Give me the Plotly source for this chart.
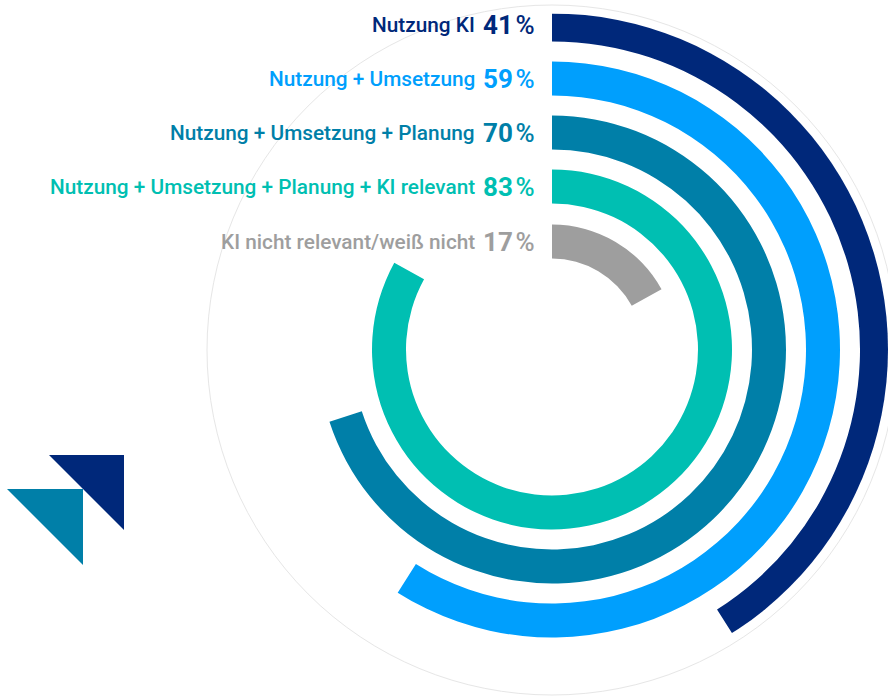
import plotly.graph_objects as go

# ---- data ----
categories = [
    "Nutzung KI",
    "Nutzung + Umsetzung",
    "Nutzung + Umsetzung + Planung",
    "Nutzung + Umsetzung + Planung + KI relevant",
    "KI nicht relevant/weiß nicht",
]
values = [41, 59, 70, 83, 17]
colors = ["#00287A", "#009FFD", "#007FA8", "#00BFB2", "#9E9E9E"]
pct_labels = [f"<b>{v}</b>\u200a%" for v in values]

# ---- geometry (radial units = pixels) ----
W, H = 888, 699
CX, CY = 552, 350
R_MAX = 336          # polar circle radius available in the window
ring_base = [308, 254, 200, 146, 91]
ring_thick = 34

fig = go.Figure()
for cat, v, col, b in zip(categories, values, colors, ring_base):
    fig.add_trace(go.Barpolar(
        r=[ring_thick], base=[b],
        theta=[v * 3.6 / 2], width=[v * 3.6],
        marker=dict(color=col, line=dict(width=0)),
        name=cat, hoverinfo="skip",
    ))

dom_x0 = (CX - R_MAX) / W
fig.update_layout(
    width=W, height=H,
    margin=dict(l=0, r=0, t=0, b=0),
    paper_bgcolor="white", plot_bgcolor="white",
    showlegend=False,
    polar=dict(
        domain=dict(x=[dom_x0, 1], y=[0, 1]),
        bgcolor="rgba(0,0,0,0)",
        radialaxis=dict(visible=False, range=[0, R_MAX]),
        angularaxis=dict(visible=False, direction="clockwise", rotation=90),
        hole=0,
    ),
    font=dict(family="Roboto"),
)

# faint outer circle
RC = 345
fig.add_shape(type="circle", xref="paper", yref="paper",
              x0=(CX - RC) / W, x1=(CX + RC) / W,
              y0=1 - (CY + RC) / H, y1=1 - (CY - RC) / H,
              line=dict(color="#E6E6E6", width=1), layer="below")

# labels
for cat, pct, col, b in zip(categories, pct_labels, colors, ring_base):
    yc = CY - (b + ring_thick / 2)
    ypaper = 1 - yc / H
    fig.add_annotation(x=537 / W, y=ypaper, xref="paper", yref="paper",
                       text=pct, showarrow=False,
                       xanchor="right", yanchor="middle",
                       font=dict(size=26, color=col, family="Roboto", weight=500))
    fig.add_annotation(x=477 / W, y=ypaper, xref="paper", yref="paper",
                       text=cat, showarrow=False,
                       xanchor="right", yanchor="middle",
                       font=dict(size=20.8, color=col, family="Roboto", weight=500))

# logo triangles
def px(x, y):
    return f"{x / W:.5f},{1 - y / H:.5f}"

fig.add_shape(type="path", xref="paper", yref="paper",
              path=f"M {px(49,455)} L {px(124,455)} L {px(124,530)} Z",
              fillcolor="#00287A", line=dict(width=0))
fig.add_shape(type="path", xref="paper", yref="paper",
              path=f"M {px(7,489)} L {px(83,489)} L {px(83,565)} Z",
              fillcolor="#007FA8", line=dict(width=0))

fig.write_html("out.html",
               config={"displayModeBar": False},
               post_script="document.body.style.margin='0';document.body.style.overflow='hidden';")
